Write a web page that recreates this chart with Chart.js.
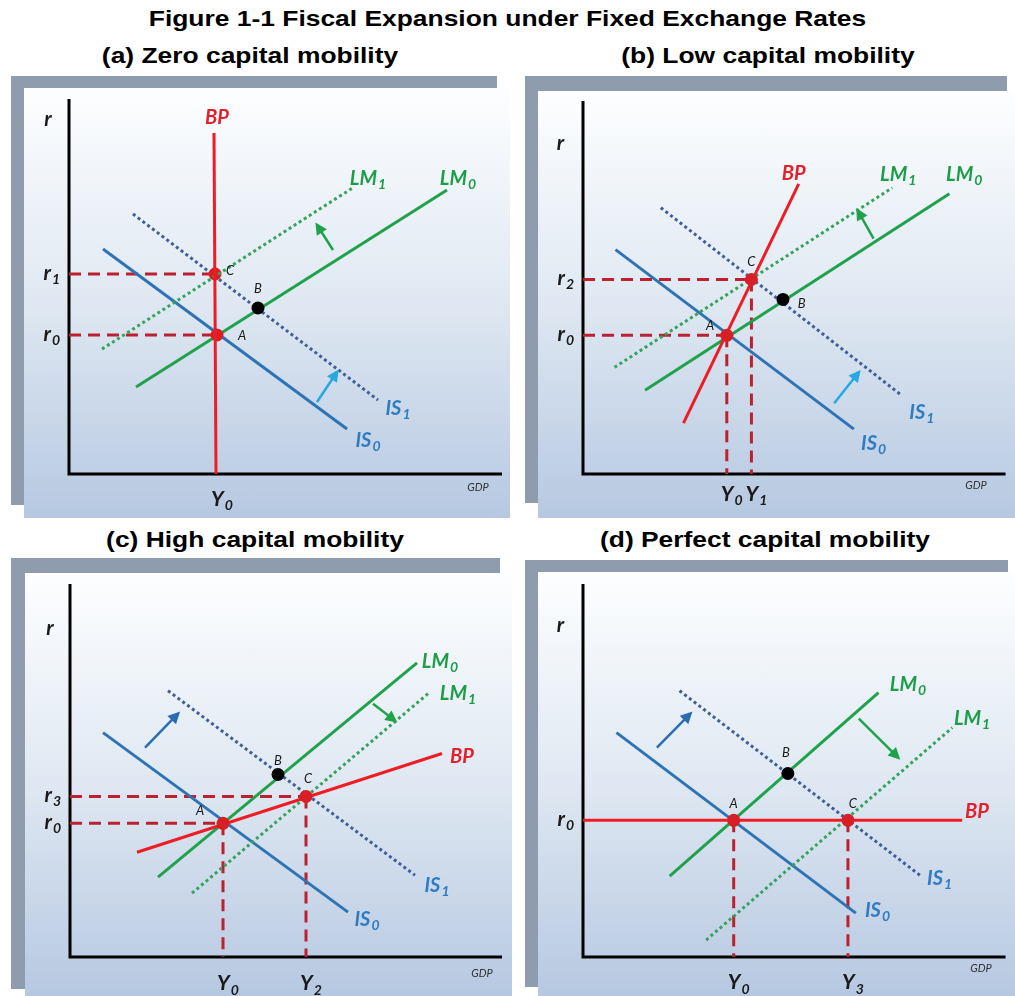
<!DOCTYPE html>
<html>
<head>
<meta charset="utf-8">
<script src="https://cdn.jsdelivr.net/npm/chart.js@4/dist/chart.umd.min.js"></script>
<style>
  body { margin: 0; width: 1015px; height: 996px; background: #fff; position: relative; overflow: hidden; }
  .head { position: absolute; font: bold 22px "Liberation Sans", Arial, sans-serif; color: #000; text-align: center;
          white-space: nowrap; transform: scaleX(1.2); transform-origin: 50% 50%; }
  .shadow { position: absolute; background: #8f9cad; }
  .panel { position: absolute; background: linear-gradient(#fdfeff, #dfe8f2 50%, #b6c8e1); }
  .panel canvas { position: absolute; left: 0; top: 0; }
</style>
</head>
<body>
<div class="head" style="left:0;width:1015px;top:6px;">Figure 1-1 Fiscal Expansion under Fixed Exchange Rates</div>
<div class="head" style="left:0;width:500px;top:43px;">(a) Zero capital mobility</div>
<div class="head" style="left:518px;width:500px;top:43px;">(b) Low capital mobility</div>
<div class="head" style="left:5px;width:500px;top:527px;">(c) High capital mobility</div>
<div class="head" style="left:515px;width:500px;top:527px;">(d) Perfect capital mobility</div>
<script>
// values: x = output (GDP), y = interest rate (r), origin at the axes corner

// (a) zero capital mobility
const aAxes = [[0, 375], [0, 0], [433, 0]];
const aBP = [[145, 341], [147, 0]];
const aIS0 = [[34, 225], [278, 45]];
const aIS1 = [[64, 260], [309, 74]];
const aLM0 = [[67, 87], [378, 284]];
const aLM1 = [[33, 125], [285, 287]];
const aGuides = [[[0, 200], [146, 200]], [[0, 139], [148, 139]]];
const aRed = [[148, 139], [146, 200]];
const aBlack = [[189, 166]];
const aLMShift = [[264, 224], [248, 249]];
const aISShift = [[248, 72], [268, 102]];
const aRTicks = [['1', 200], ['0', 139]];
const aYTicks = [['0', 148]];

// (b) low capital mobility
const bAxes = [[0, 374], [0, 0], [429, 0]];
const bBP = [[102, 51], [219, 291]];
const bIS0 = [[33, 225], [275, 45]];
const bIS1 = [[79, 267], [322, 80]];
const bLM0 = [[63, 84], [372, 281]];
const bLM1 = [[32, 107], [314, 287]];
const bGuides = [[[0, 195], [171, 195]], [[0, 139], [146, 139]], [[146, 139], [146, 0]], [[171, 195], [171, 0]]];
const bRed = [[146, 139], [171, 195]];
const bBlack = [[203, 175]];
const bLMShift = [[295, 236], [279, 264]];
const bISShift = [[255, 71], [280, 102]];
const bRTicks = [['2', 195], ['0', 139]];
const bYTicks = [['0', 146], ['1', 171]];

// (c) high capital mobility
const cAxes = [[0, 374], [0, 0], [432, 0]];
const cBP = [[67, 105], [372, 204]];
const cIS0 = [[33, 225], [278, 45]];
const cIS1 = [[98, 267], [345, 82]];
const cLM0 = [[88, 80], [347, 295]];
const cLM1 = [[122, 64], [358, 264]];
const cGuides = [[[0, 161], [236, 161]], [[0, 134], [153, 134]], [[153, 134], [153, 0]], [[236, 161], [236, 0]]];
const cRed = [[153, 134], [236, 161]];
const cBlack = [[208, 183]];
const cLMShift = [[303, 254], [325, 237]];
const cISShift = [[75, 210], [108, 244]];
const cRTicks = [['3', 161], ['0', 134]];
const cYTicks = [['0', 153], ['2', 236]];

// (d) perfect capital mobility
const dAxes = [[0, 374], [0, 0], [429, 0]];
const dBP = [[0, 137], [385, 137]];
const dIS0 = [[34, 225], [277, 44]];
const dIS1 = [[98, 267], [342, 82]];
const dLM0 = [[88, 81], [300, 265]];
const dLM1 = [[125, 17], [375, 230]];
const dGuides = [[[153, 137], [153, 0]], [[269, 137], [269, 0]]];
const dRed = [[153, 137], [269, 137]];
const dBlack = [[208, 184]];
const dLMShift = [[280, 239], [320, 200]];
const dISShift = [[75, 210], [109, 244]];
const dRTicks = [['0', 137]];
const dYTicks = [['0', 153], ['3', 269]];

const RED = '#ee1d25', DASHRED = '#bd2130', BLUE = '#2e74b5', NAVY = '#3f5f98',
      GREEN = '#20a14c', DOTGREEN = '#36a35c', SKY = '#28a8e0', DEEPBLUE = '#2b6db3',
      DOTRED = '#d81f26';
const FONT = 'Lato, "Open Sans", sans-serif';

const STYLES = {
  bp:  { size: 20, weight: 'bold', color: '#e3202a' },
  is:  { size: 20, weight: 'bold', color: '#2f7cc3' },
  lm:  { size: 20, weight: 'bold', color: '#1c9d48' },
  ax:  { size: 21, weight: 'bold', color: '#1a1a1a' },
  pt:  { size: 13, weight: 'normal', color: '#1a1a1a' },
  gdp: { size: 11, weight: 'normal', color: '#333' }
};

const xy = pts => pts.map(p => ({ x: p[0], y: p[1] }));

function solid(pts, color, width) {
  return { data: xy(pts), showLine: true, borderColor: color, borderWidth: width || 3,
           pointRadius: 0, clip: false, borderJoinStyle: 'miter' };
}
function dotted(pts, color) { return Object.assign(solid(pts, color, 3), { borderDash: [3, 3] }); }
function dashed(pts) { return Object.assign(solid(pts, DASHRED, 3), { borderDash: [12, 7] }); }
function arrow(pts, color) { return Object.assign(solid(pts, color, 2.5), { arrow: true }); }
function dots(pts, color) {
  return { data: xy(pts), showLine: false, pointRadius: 6.5, pointBackgroundColor: color,
           pointBorderWidth: 0, clip: false };
}

function drawText(ctx, text, sub, x, y, st, align) {
  const main = `italic ${st.weight} ${st.size}px ${FONT}`;
  const small = `italic ${st.weight} ${Math.round(st.size * 0.68)}px ${FONT}`;
  ctx.save();
  ctx.fillStyle = st.color;
  ctx.textAlign = 'left';
  ctx.textBaseline = 'alphabetic';
  ctx.font = main;
  const w1 = ctx.measureText(text).width;
  ctx.font = small;
  const w2 = sub ? ctx.measureText(sub).width + 1 : 0;
  const left = align === 'right' ? x - w1 - w2 : x - (w1 + w2) / 2;
  const base = y + st.size * 0.36;
  ctx.font = main;
  ctx.fillText(text, left, base);
  if (sub) {
    ctx.font = small;
    ctx.fillText(sub, left + w1 + 1, base + st.size * 0.2);
  }
  ctx.restore();
}

const notesPlugin = {
  id: 'notes',
  afterDatasetsDraw(chart, args, opts) {
    const ctx = chart.ctx, xs = chart.scales.x, ys = chart.scales.y;
    // arrow heads at the end of every shift arrow
    chart.data.datasets.forEach((ds, i) => {
      if (!ds.arrow) return;
      const pts = chart.getDatasetMeta(i).data;
      const p0 = pts[pts.length - 2], p1 = pts[pts.length - 1];
      const ang = Math.atan2(p1.y - p0.y, p1.x - p0.x);
      ctx.save();
      ctx.fillStyle = ds.borderColor;
      ctx.translate(p1.x, p1.y);
      ctx.rotate(ang);
      ctx.beginPath();
      ctx.moveTo(3, 0);
      ctx.lineTo(-9, -6);
      ctx.lineTo(-9, 6);
      ctx.closePath();
      ctx.fill();
      ctx.restore();
    });
    (opts.items || []).forEach(n => {
      drawText(ctx, n[0], n[1], xs.getPixelForValue(n[2]), ys.getPixelForValue(n[3]), STYLES[n[4]], n[5]);
    });
  }
};

function tickNotes(rTicks, yTicks, yOff) {
  const out = [];
  rTicks.forEach(t => out.push(['r', t[0], -9, t[1] + 2, 'ax', 'right']));
  yTicks.forEach(t => out.push(['Y', t[0], t[1] + 5, yOff, 'ax']));
  return out;
}

// datasets are listed bottom to top; Chart.js paints the first dataset last, so they get reversed
const panels = [
  {
    shadow: [11, 76, 486, 429], box: [24, 88, 486, 430], pad: { left: 45, top: 11, right: 9, bottom: 44 },
    datasets: [
      solid(aAxes, '#000', 3),
      ...aGuides.map(dashed),
      solid(aIS0, BLUE), dotted(aIS1, NAVY), solid(aLM0, GREEN),
      dots(aRed, DOTRED), dotted(aLM1, DOTGREEN), solid(aBP, RED),
      arrow(aLMShift, GREEN), arrow(aISShift, SKY),
      dots(aBlack, '#000')
    ],
    notes: [
      ['r', '', -21, 356, 'ax'], ['BP', '', 148, 357, 'bp'],
      ['LM', '1', 299, 296, 'lm'], ['LM', '0', 389, 296, 'lm'],
      ['IS', '1', 329, 66, 'is'], ['IS', '0', 299, 34, 'is'],
      ['A', '', 173, 139, 'pt'], ['C', '', 161, 204, 'pt'], ['B', '', 189, 186, 'pt'],
      ['GDP', '', 409, -13, 'gdp'],
      ...tickNotes(aRTicks, aYTicks, -24)
    ]
  },
  {
    shadow: [525, 76, 482, 427], box: [538, 91, 477, 427], pad: { left: 45, top: 9, right: 0, bottom: 44 },
    datasets: [
      solid(bAxes, '#000', 3),
      ...bGuides.map(dashed),
      solid(bIS0, BLUE), dotted(bIS1, NAVY), solid(bLM0, GREEN), dotted(bLM1, DOTGREEN),
      solid(bBP, RED),
      arrow(bLMShift, GREEN), arrow(bISShift, SKY),
      dots(bRed, DOTRED), dots(bBlack, '#000')
    ],
    notes: [
      ['r', '', -23, 332, 'ax'], ['BP', '', 214, 302, 'bp'],
      ['LM', '1', 320, 301, 'lm'], ['LM', '0', 387, 301, 'lm'],
      ['IS', '1', 344, 62, 'is'], ['IS', '0', 295, 31, 'is'],
      ['A', '', 129, 149, 'pt'], ['C', '', 171, 213, 'pt'], ['B', '', 222, 171, 'pt'],
      ['GDP', '', 399, -11, 'gdp'],
      ...tickNotes(bRTicks, bYTicks, -19)
    ]
  },
  {
    shadow: [11, 558, 489, 431], box: [25, 573, 487, 423], pad: { left: 45, top: 10, right: 10, bottom: 39 },
    datasets: [
      solid(cAxes, '#000', 3),
      ...cGuides.map(dashed),
      solid(cIS0, BLUE), dotted(cIS1, NAVY), solid(cLM0, GREEN), dotted(cLM1, DOTGREEN),
      solid(cBP, RED),
      arrow(cLMShift, GREEN), arrow(cISShift, DEEPBLUE),
      dots(cRed, DOTRED), dots(cBlack, '#000')
    ],
    notes: [
      ['r', '', -20, 330, 'ax'], ['BP', '', 392, 202, 'bp'],
      ['LM', '0', 370, 297, 'lm'], ['LM', '1', 388, 265, 'lm'],
      ['IS', '1', 367, 72, 'is'], ['IS', '0', 297, 38, 'is'],
      ['A', '', 130, 147, 'pt'], ['B', '', 208, 197, 'pt'], ['C', '', 238, 179, 'pt'],
      ['GDP', '', 412, -16, 'gdp'],
      ...tickNotes(cRTicks, cYTicks, -26)
    ]
  },
  {
    shadow: [525, 560, 483, 427], box: [538, 572, 477, 424], pad: { left: 45, top: 11, right: 0, bottom: 39 },
    datasets: [
      solid(dAxes, '#000', 3),
      ...dGuides.map(dashed),
      solid(dIS0, BLUE), dotted(dIS1, NAVY), solid(dLM0, GREEN), dotted(dLM1, DOTGREEN),
      solid(dBP, RED),
      arrow(dLMShift, GREEN), arrow(dISShift, DEEPBLUE),
      dots(dRed, DOTRED), dots(dBlack, '#000')
    ],
    notes: [
      ['r', '', -23, 333, 'ax'], ['BP', '', 400, 147, 'bp'],
      ['LM', '0', 330, 274, 'lm'], ['LM', '1', 395, 240, 'lm'],
      ['IS', '1', 362, 79, 'is'], ['IS', '0', 299, 47, 'is'],
      ['A', '', 153, 154, 'pt'], ['B', '', 206, 205, 'pt'], ['C', '', 274, 154, 'pt'],
      ['GDP', '', 404, -11, 'gdp'],
      ...tickNotes(dRTicks, dYTicks, -25)
    ]
  }
];

panels.forEach(p => {
  const sh = document.createElement('div');
  sh.className = 'shadow';
  Object.assign(sh.style, { left: p.shadow[0] + 'px', top: p.shadow[1] + 'px', width: p.shadow[2] + 'px', height: p.shadow[3] + 'px' });
  document.body.appendChild(sh);

  const box = document.createElement('div');
  box.className = 'panel';
  Object.assign(box.style, { left: p.box[0] + 'px', top: p.box[1] + 'px', width: p.box[2] + 'px', height: p.box[3] + 'px' });
  const canvas = document.createElement('canvas');
  canvas.width = p.box[2];
  canvas.height = p.box[3];
  box.appendChild(canvas);
  document.body.appendChild(box);

  new Chart(canvas.getContext('2d'), {
    type: 'scatter',
    data: { datasets: p.datasets.slice().reverse() },
    options: {
      responsive: false,
      animation: false,
      events: [],
      layout: { padding: p.pad },
      scales: {
        x: { type: 'linear', min: 0, max: 432, display: false },
        y: { type: 'linear', min: 0, max: 375, display: false }
      },
      plugins: {
        legend: { display: false },
        tooltip: { enabled: false },
        notes: { items: p.notes }
      }
    },
    plugins: [notesPlugin]
  });
});
</script>
</body>
</html>
